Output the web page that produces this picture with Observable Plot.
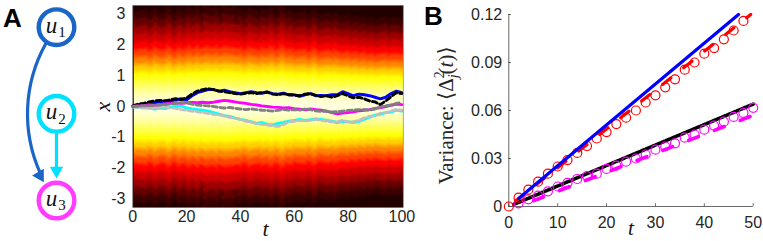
<!DOCTYPE html>
<html><head><meta charset="utf-8">
<script src="https://cdn.jsdelivr.net/npm/d3@7"></script>
<script src="https://cdn.jsdelivr.net/npm/@observablehq/plot@0.6"></script>
<style>
body{margin:0;background:#fff;}
#root{position:relative;width:763px;height:241px;overflow:hidden;background:#fff;}
#root > div{position:absolute;top:0;}
</style></head><body><div id="root"><div id="pa" style="left:0"></div><div id="ph" style="left:90px"></div><div id="pb" style="left:420px"></div></div>
<script>
const serif = "'Liberation Serif','DejaVu Serif',serif";
const sans = "'Liberation Sans',Arial,Helvetica,sans-serif";
const axisColor = "#262626";

// ---------- Panel A: network ----------
const nodeRows = [0, 1, 2];
const nodeSubs = ["1", "2", "3"];
const nodeColors = ["#1a66c8", "#00e1ff", "#ff3cff"];
const edgeFrom = [0, 1];
const edgeTo = [2, 2];

// ---------- Heatmap ----------
const heatXTicks = [0, 20, 40, 60, 80, 100];
const heatYTicks = [-3, -2, -1, 0, 1, 2, 3];
const profileX = [0, 0.25, 0.5, 0.75, 1, 1.25, 1.5, 1.75, 2, 2.25, 2.5, 2.75, 3, 3.25];
const profileLevel = [0.97, 0.95, 0.90, 0.83, 0.76, 0.68, 0.57, 0.47, 0.37, 0.30, 0.23, 0.15, 0.09, 0.05];
const colSpread = [
  1.00,0.96,1.03,0.97,1.04,0.99,0.95,1.02,1.05,0.97,1.00,
  0.96,1.03,1.06,0.98,0.95,1.02,1.04,0.97,1.00,1.05,
  1.03,0.98,1.06,1.04,0.97,1.07,1.02,1.05,0.99,1.06,
  1.04,0.98,1.07,1.02,1.05,1.00,1.06,0.97,1.04,1.00,
  0.96,1.02,1.05,0.98,1.03,0.96,1.00,1.04,0.97,1.02,
  1.05,1.00,0.96,1.04,1.06,1.01,0.97,1.03,0.98,0.95,
  1.01,0.96,1.02,0.97,0.94,1.00,1.03,0.96,0.93,0.98,
  0.95,1.01,0.94,0.97,1.00,0.93,0.96,0.92,0.98,0.94,
  0.91,0.97,0.93,0.90,0.96,0.92,0.89,0.95,0.91,0.88,
  0.94,0.90,0.96,0.91,0.89,0.95,0.90,0.94,0.89,0.92];
const trajT = d3.range(0, 101, 2);
const trajBlue = [0.02,0.05,0.08,0.10,0.12,0.15,0.18,0.17,0.22,0.25,0.22,0.35,0.45,0.50,0.55,0.55,0.50,0.53,0.48,0.45,0.42,0.45,0.48,0.45,0.43,0.47,0.42,0.40,0.43,0.38,0.38,0.33,0.38,0.42,0.35,0.36,0.35,0.38,0.38,0.48,0.42,0.35,0.40,0.38,0.35,0.30,0.25,0.30,0.42,0.50,0.45];
const trajBlack = [0.02,0.08,0.10,0.15,0.18,0.20,0.18,0.22,0.25,0.22,0.28,0.40,0.50,0.55,0.58,0.55,0.50,0.48,0.45,0.42,0.40,0.43,0.45,0.42,0.45,0.47,0.40,0.38,0.42,0.38,0.37,0.35,0.40,0.42,0.36,0.32,0.35,0.30,0.35,0.42,0.35,0.28,0.30,0.25,0.18,0.15,0.06,0.18,0.32,0.45,0.42];
const trajMagenta = [0.00,0.02,0.03,0.05,0.04,0.06,0.08,0.10,0.12,0.10,0.12,0.13,0.12,0.14,0.12,0.14,0.17,0.20,0.18,0.15,0.12,0.10,0.07,0.05,0.02,0.00,-0.02,-0.03,-0.05,-0.04,-0.07,-0.09,-0.11,-0.08,-0.10,-0.12,-0.15,-0.20,-0.24,-0.21,-0.20,-0.17,-0.14,-0.12,-0.10,-0.06,-0.04,0.00,0.04,0.08,0.06];
const trajGray = [0.00,0.01,0.03,0.02,0.04,0.05,0.06,0.08,0.10,0.12,0.12,0.08,0.05,0.03,0.02,0.00,-0.03,-0.05,-0.03,-0.06,-0.08,-0.10,-0.08,-0.10,-0.12,-0.13,-0.15,-0.12,-0.10,-0.12,-0.10,-0.12,-0.08,-0.10,-0.14,-0.16,-0.15,-0.18,-0.17,-0.15,-0.13,-0.12,-0.10,-0.10,-0.12,-0.08,-0.02,0.02,0.05,0.10,0.13];
const trajCyan = [0.00,-0.02,-0.03,-0.05,-0.08,-0.05,-0.07,-0.02,0.00,0.02,-0.05,-0.08,-0.10,-0.12,-0.15,-0.20,-0.25,-0.30,-0.32,-0.38,-0.42,-0.45,-0.50,-0.55,-0.52,-0.58,-0.60,-0.55,-0.52,-0.48,-0.45,-0.42,-0.45,-0.43,-0.40,-0.42,-0.45,-0.48,-0.52,-0.48,-0.50,-0.52,-0.48,-0.42,-0.35,-0.28,-0.25,-0.20,-0.18,-0.12,-0.15];
const trajLight = [-0.02,-0.03,-0.05,-0.06,-0.05,-0.03,-0.02,-0.05,-0.06,-0.10,-0.12,-0.15,-0.17,-0.20,-0.22,-0.25,-0.27,-0.30,-0.35,-0.38,-0.42,-0.48,-0.50,-0.55,-0.58,-0.60,-0.62,-0.65,-0.58,-0.50,-0.48,-0.45,-0.47,-0.45,-0.42,-0.45,-0.47,-0.50,-0.50,-0.45,-0.50,-0.50,-0.45,-0.38,-0.32,-0.30,-0.22,-0.20,-0.15,-0.10,-0.12];

// ---------- Panel B ----------
const bXTicks = [0, 10, 20, 30, 40, 50];
const bYTicks = [0, 0.03, 0.06, 0.09, 0.12];
const redT = d3.range(0, 49, 2);
const redVar = [0.000,0.0055,0.0105,0.0155,0.0205,0.0250,0.0290,0.0335,0.0378,0.0425,0.0465,0.0515,0.0555,0.0600,0.0650,0.0695,0.0745,0.0795,0.0855,0.0900,0.0955,0.0990,0.1045,0.1100,0.1160];
const magT = d3.range(2, 51, 2);
const magVar = [0.0020,0.0045,0.0068,0.0095,0.0125,0.0148,0.0172,0.0190,0.0205,0.0235,0.0255,0.0280,0.0300,0.0325,0.0355,0.0375,0.0395,0.0430,0.0450,0.0480,0.0505,0.0530,0.0560,0.0585,0.0617];
const blueTheoryT = [2, 47];
const blueTheory = [0.005, 0.12];
const redTheoryT = [0, 49.5];
const redTheory = [0, 0.12];
const blackTheoryT = [1, 50];
const blackTheory = [0.0013, 0.064];
const magTheoryT = [5.1, 50];
const magTheory = [0.0037, 0.057];
const yLab = "Variance: ⟨Δ²ⱼ(t)⟩";

// ===== draw A =====
const nodes = nodeRows.map((row, i) => ({row, sub: nodeSubs[i], color: nodeColors[i]}));
const edges = edgeFrom.map((f, i) => ({from: f, to: edgeTo[i], color: nodeColors[f]}));
const diagram = Plot.plot({
  width: 110, height: 241, margin: 0,
  style: {background: "transparent"},
  x: {type: "linear", domain: [0, 1], range: [56, 110], axis: null},
  y: {type: "linear", domain: [0, 2], range: [26.7, 200], axis: null},
  marks: [
    Plot.arrow([edges[0]], {x1: () => 0, x2: () => 0, y1: "from", y2: "to", bend: -37, stroke: "color", strokeWidth: 3.2, headLength: 0, insetStart: 20, insetEnd: 32}),
    Plot.arrow([edges[1]], {x1: () => 0, x2: () => 0, y1: "from", y2: "to", stroke: "color", strokeWidth: 3.2, headLength: 0, insetStart: 20, insetEnd: 34}),
    Plot.dot([edges[0]], {x: () => 0, y: "to", symbol: "triangle", r: 5, fill: "color", stroke: null, rotate: 150, dx: -16.6, dy: -25}),
    Plot.dot([edges[1]], {x: () => 0, y: "to", symbol: "triangle", r: 5, fill: "color", stroke: null, rotate: 180, dy: -29.8}),
    Plot.dot(nodes, {x: () => 0, y: "row", r: 17.8, stroke: "color", strokeWidth: 4.4, fill: "white"}),
    Plot.text(nodes, {x: () => 0, y: "row", text: () => "u", dx: -5, dy: -2, fontSize: 23, fontStyle: "italic", fontFamily: serif, fill: "#111"}),
    Plot.text(nodes, {x: () => 0, y: "row", text: "sub", dx: 5.5, dy: 5, fontSize: 15, fontFamily: serif, fill: "#111"}),
    Plot.text(["A"], {frameAnchor: "top-left", text: d => d, dx: 12, dy: 18, textAnchor: "middle", lineAnchor: "middle", fontSize: 26, fontWeight: "bold", fontFamily: sans, fill: "#000"})
  ]
});
document.getElementById("pa").appendChild(diagram);

// ===== draw heatmap =====
const cells = [];
colSpread.forEach((s, t) => {
  profileX.forEach((px, k) => {
    cells.push({t: t + 0.5, x: px * s, v: profileLevel[k]});
    if (k > 0) cells.push({t: t + 0.5, x: -px * s, v: profileLevel[k]});
  });
});
const traj = (vals, stroke, dash) => Plot.line(trajT, {x: d => d, y: (d, i) => vals[i], stroke, strokeWidth: 2.9, strokeDasharray: dash});
const heat = Plot.plot({
  width: 330, height: 241, marginLeft: 42.3, marginRight: 17.3, marginTop: 5, marginBottom: 34,
  style: {fontFamily: sans, fontSize: "16px", color: axisColor, background: "transparent", overflow: "visible"},
  x: {domain: [0, 100.5]},
  y: {domain: [-3.28, 3.28]},
  color: {type: "linear", domain: [0, 0.375, 0.75, 1], range: ["#000000", "#ff0000", "#ffff00", "#ffffff"]},
  marks: [
    Plot.raster(cells, {x: "t", y: "x", fill: "v", interpolate: "barycentric", x1: 0, x2: 100.5, y1: -3.28, y2: 3.28}),
    traj(trajBlue, "#0000ff", null),
    traj(trajBlack, "#000000", "5,3"),
    traj(trajCyan, "#00ffff", null),
    traj(trajLight, "#c0c0c0", "5,3"),
    traj(trajMagenta, "#ff00ff", null),
    traj(trajGray, "#808080", "5,3"),
    Plot.frame({stroke: "#666", strokeWidth: 0.6}),
    Plot.axisX(heatXTicks, {tickSize: 0, tickPadding: 3.3, tickFormat: d => String(d), label: null}),
    Plot.axisY(heatYTicks, {tickSize: 0, tickPadding: 7.3, tickFormat: d => String(d), label: null}),
    Plot.text(["x"], {frameAnchor: "left", text: d => d, textAnchor: "middle", dx: -30, rotate: -90, fontStyle: "italic", fontFamily: serif, fontSize: 22, fill: "#111"}),
    Plot.text(["t"], {frameAnchor: "bottom", text: d => d, lineAnchor: "middle", dx: -2.5, dy: 21, fontStyle: "italic", fontFamily: serif, fontSize: 22, fill: "#111"})
  ]
});
document.getElementById("ph").appendChild(heat);

// ===== draw B =====
const seg = (ts, vs) => ts.map((t, i) => ({t, v: vs[i]}));
const plotB = Plot.plot({
  width: 343, height: 241, marginLeft: 88.3, marginRight: 10.3, marginTop: 14, marginBottom: 35,
  style: {fontFamily: sans, fontSize: "16px", color: axisColor, background: "transparent", overflow: "visible"},
  x: {domain: [0, 50]},
  y: {domain: [0, 0.12]},
  marks: [
    Plot.ruleX([0], {stroke: axisColor, strokeWidth: 0.7}),
    Plot.ruleY([0], {stroke: axisColor, strokeWidth: 0.7}),
    Plot.ruleX(bXTicks, {x: d => d, y1: 0, y2: 0.0017, stroke: axisColor, strokeWidth: 0.7}),
    Plot.ruleY(bYTicks, {y: d => d, x1: 0, x2: 0.55, stroke: axisColor, strokeWidth: 0.7}),
    Plot.line(seg(blackTheoryT, blackTheory), {x: "t", y: "v", stroke: "#000", strokeWidth: 3.6, strokeDasharray: "4,1.5"}),
    Plot.dot(seg(magT, magVar), {x: "t", y: "v", r: 4.5, stroke: "#ff00ff", strokeWidth: 1.2, fill: "none"}),
    Plot.line(seg(magTheoryT, magTheory), {x: "t", y: "v", stroke: "#ff00ff", strokeWidth: 3.6, strokeDasharray: "10.5,17.2"}),
    Plot.dot(seg(redT, redVar), {x: "t", y: "v", r: 4.5, stroke: "#ff0000", strokeWidth: 1.2, fill: "none"}),
    Plot.line(seg(redTheoryT, redTheory), {x: "t", y: "v", stroke: "#ff0000", strokeWidth: 3.2, strokeDasharray: "10.6,16.2", strokeDashoffset: 18}),
    Plot.line(seg(blueTheoryT, blueTheory), {x: "t", y: "v", stroke: "#0000ff", strokeWidth: 3.2}),
    Plot.axisX(bXTicks, {tickSize: 0, tickPadding: 10, tickFormat: d => String(d), label: null}),
    Plot.axisY(bYTicks, {tickSize: 0, tickPadding: 6.6, tickFormat: d => String(d), label: null}),
    Plot.text([yLab], {frameAnchor: "left", text: d => d, textAnchor: "middle", dx: -62.5, dy: 5, rotate: -90, fontFamily: serif, fontSize: 21, fill: axisColor}),
    Plot.text(["t"], {frameAnchor: "bottom", text: d => d, lineAnchor: "middle", dy: 22, fontStyle: "italic", fontFamily: serif, fontSize: 21, fill: "#111"}),
    Plot.text(["B"], {frameAnchor: "top-left", text: d => d, dx: -75.3, dy: 2, textAnchor: "middle", lineAnchor: "middle", fontSize: 26, fontWeight: "bold", fontFamily: sans, fill: "#000"})
  ]
});
document.getElementById("pb").appendChild(plotB);

// typeset the y label with stacked super/subscript
const labEl = [...plotB.querySelectorAll("text")].find(n => n.textContent === yLab);
if (labEl) {
  labEl.textContent = "";
  const parts = [["Variance: ⟨Δ", {}], ["2", {"font-size": 14, dy: -9}], ["j", {"font-size": 14, dx: -7, dy: 14, "font-style": "italic"}], ["(", {dy: -5}], ["t", {"font-style": "italic"}], [")⟩", {}]];
  for (const [s, a] of parts) {
    const ts = document.createElementNS("http://www.w3.org/2000/svg", "tspan");
    for (const k in a) ts.setAttribute(k, a[k]);
    ts.textContent = s;
    labEl.appendChild(ts);
  }
}
</script></body></html>
